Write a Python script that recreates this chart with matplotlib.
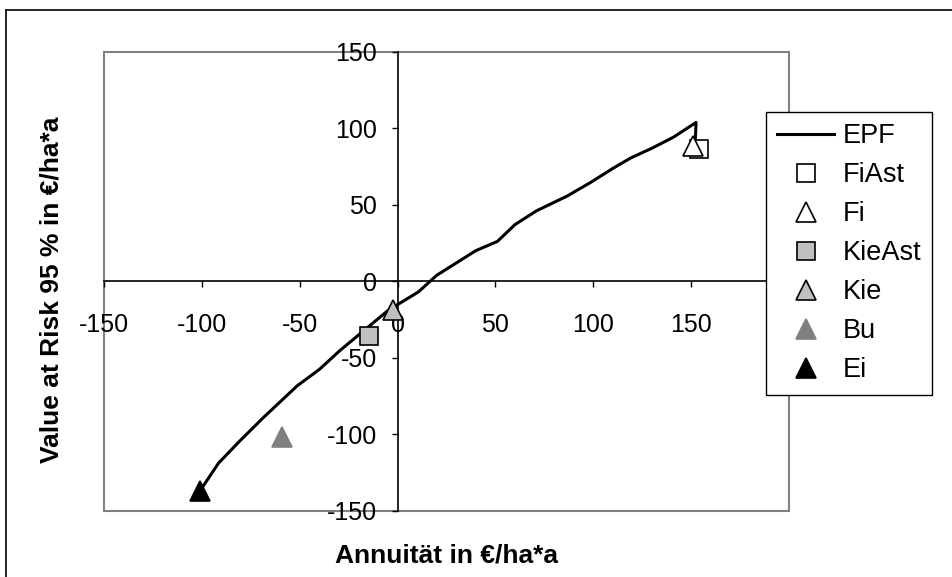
import matplotlib.pyplot as plt
from matplotlib.lines import Line2D
from matplotlib.patches import Rectangle

plt.rcParams['font.family'] = ['Liberation Sans', 'DejaVu Sans']
plt.rcParams['axes.unicode_minus'] = False

# efficient frontier (EPF)
epf_x = [-101, -91.5, -80.7, -68.3, -51.3, -39.8, -29.6, -17.2, -4.8, 10.7, 20,
         40, 51, 60, 71, 86.6, 99, 110, 119, 130, 141, 152.5, 152]
epf_y = [-137, -118.8, -104.4, -88.7, -68.3, -57.4, -45.4, -32.2, -19, -6.9, 3.9,
         20, 26, 37, 46, 55.6, 64.8, 73.7, 80.4, 86.9, 94.1, 103.7, 88]

# single stands
names = ['FiAst', 'Fi', 'KieAst', 'Kie', 'Bu', 'Ei']
pt_x = [154, 151, -14.5, -2.5, -59, -101]
pt_y = [86.5, 88, -36, -19, -102, -137]
markers = ['s', '^', 's', '^', '^', '^']
faces = ['white', 'white', '#C0C0C0', '#C0C0C0', '#808080', 'black']
edges = ['black', 'black', 'black', 'black', '#808080', 'black']
sizes = [12.5, 14, 12.5, 14, 14, 14]

ticks = [-150, -100, -50, 0, 50, 100, 150]

fig = plt.figure(figsize=(9.52, 5.77), dpi=100)
ax = fig.add_axes([0.1092, 0.1144, 0.7196, 0.7963])

ax.plot(epf_x, epf_y, color='black', lw=2.2, label='EPF', zorder=3)
for i in range(len(names)):
    ax.plot(pt_x[i], pt_y[i], ls='none', marker=markers[i], ms=sizes[i],
            mfc=faces[i], mec=edges[i], mew=1.2, label=names[i], zorder=4)

ax.set_xlim(-150, 200)
ax.set_ylim(-150, 150)
ax.set_xticks(ticks)
ax.set_yticks(ticks)

# axes cross at the origin, grey frame around plot area
ax.spines['left'].set_position(('data', 0))
ax.spines['bottom'].set_position(('data', 0))
ax.spines['top'].set_visible(False)
ax.spines['right'].set_visible(False)
for s in ['left', 'bottom']:
    ax.spines[s].set_linewidth(1.2)
ax.add_patch(Rectangle((0, 0), 1, 1, transform=ax.transAxes, fill=False,
                       ec='#808080', lw=1.5, clip_on=False, zorder=0))
ax.tick_params(direction='out', length=4, width=1, labelsize=18)
ax.tick_params(axis='x', pad=19)
ax.tick_params(axis='y', pad=11)

fig.text(0.054, 0.497, 'Value at Risk 95 % in €/ha*a', rotation=90,
         ha='center', va='center', fontsize=19, fontweight='bold')
fig.text(0.4695, 0.038, 'Annuität in €/ha*a', ha='center', va='center',
         fontsize=19, fontweight='bold')

leg = ax.legend(loc='upper left', bbox_to_anchor=(766 / 952, 1 - 112 / 577),
                bbox_transform=fig.transFigure, fontsize=19.5, frameon=True,
                fancybox=False, edgecolor='black', framealpha=1,
                handlelength=2.1, handletextpad=0.3, labelspacing=0.48,
                borderpad=0.42, borderaxespad=0)
leg.get_frame().set_linewidth(1)
leg.set_zorder(10)

# outer chart border (only top and left visible)
fig.add_artist(Line2D([6 / 952, 1], [1 - 10 / 577, 1 - 10 / 577], color='black', lw=1.2))
fig.add_artist(Line2D([6 / 952, 6 / 952], [0, 1 - 10 / 577], color='black', lw=1.2))

fig.savefig('out.png', dpi=100)
